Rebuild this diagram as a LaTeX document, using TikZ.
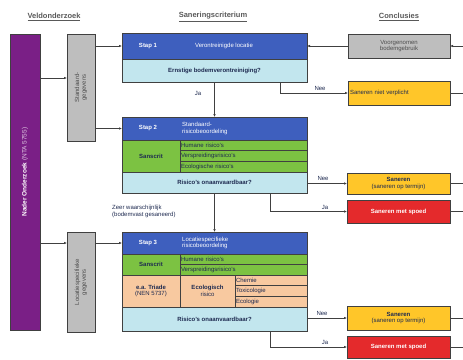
\documentclass[tikz,border=0pt]{standalone}
\usepackage{fontspec}
\setmainfont{Liberation Sans}
\usetikzlibrary{calc,arrows.meta}
\definecolor{purp}{HTML}{7A1F86}
\definecolor{hblue}{HTML}{3E5FBE}
\definecolor{lblue}{HTML}{C2E6EE}
\definecolor{lgreen}{HTML}{7CC242}
\definecolor{peach}{HTML}{F8C9A0}
\definecolor{yell}{HTML}{FFC629}
\definecolor{redb}{HTML}{E42A2C}
\definecolor{greyb}{HTML}{BEBEBE}
\definecolor{edge}{HTML}{404040}
\definecolor{txt}{HTML}{1E2A50}
\tikzset{
  cell/.style={draw=edge, line width=0.4pt, inner sep=0pt, outer sep=0pt, anchor=north west, font=\fontsize{6}{6.8}\selectfont, text=txt, align=center},
  frame/.style={draw=edge, line width=1pt},
  arr/.style={draw=edge, line width=0.8pt, -{Latex[length=3pt,width=2.6pt]}},
  ln/.style={draw=edge, line width=0.8pt},
  lab/.style={font=\fontsize{6}{7}\selectfont, text=txt, inner sep=0pt},
  head/.style={font=\fontsize{7.5}{8}\selectfont\bfseries, text=black!65, inner sep=0pt},
  wtxt/.style={font=\fontsize{6}{6.8}\selectfont, text=white, inner sep=0pt, align=left},
}
\newcommand{\ul}[1]{\underline{#1}}
\begin{document}
\begin{tikzpicture}[x=1pt,y=-1pt]
\useasboundingbox (0,0) rectangle (463,359);
% headers
\node[head] (h1) at (54,17) {\ul{Veldonderzoek}};
\node[head] (h2) at (213,17) {\ul{Saneringscriterium}};
\node[head] (h3) at (399,17) {\ul{Conclusies}};
% left column
\node[cell, fill=purp, minimum width=30, minimum height=296, line width=0.8pt] (pur) at (10,34) {};
\node[rotate=90, text=white, font=\fontsize{6.5}{7}\selectfont] (purt) at (25,172) {\textbf{Nader Onderzoek} {\color{white!75!purp}(NTA 5755)}};
\node[cell, fill=greyb, minimum width=28, minimum height=107, line width=0.8pt] (g1) at (67,34) {};
\node[rotate=90, text=black!70, font=\fontsize{6}{6.8}\selectfont, align=center] (g1t) at (g1.center) {Standaard-\\gegevens};
\node[cell, fill=greyb, minimum width=28, minimum height=100, line width=0.8pt] (g2) at (67,232) {};
\node[rotate=90, text=black!70, font=\fontsize{6}{6.8}\selectfont, align=center] (g2t) at (g2.center) {Locatiespecifieke\\gegevens};
\coordinate (pa) at (40,78);
\coordinate (pb) at (40,243);
\draw[arr] (pa) -- (pa -| g1.west);
\draw[arr] (pb) -- (pb -| g2.west);
% Stap 1
\node[cell, fill=hblue, minimum width=185, minimum height=26] (s1h) at (122,33) {};
\node[cell, fill=lblue, minimum width=185, minimum height=23] (s1q) at (122,59) {\bfseries Ernstige bodemverontreiniging?};
\draw[frame] (s1h.north west) rectangle (s1q.south east);
\node[wtxt] (s1a) at (148,46) {\bfseries Stap 1};
\node[wtxt] (s1b) at (224,46) {Verontreinigde locatie};
% Stap 2
\node[cell, fill=hblue, minimum width=185, minimum height=23] (s2h) at (122,117) {};
\node[cell, fill=lgreen, minimum width=58, minimum height=32] (s2g) at (122,140) {\bfseries Sanscrit};
\node[cell, fill=lgreen, minimum width=127, minimum height=10.67, align=left, text width=125] (s2r1) at (180,140) {Humane risico's};
\node[cell, fill=lgreen, minimum width=127, minimum height=10.67, align=left, text width=125] (s2r2) at (180,150.67) {Verspreidingsrisico's};
\node[cell, fill=lgreen, minimum width=127, minimum height=10.67, align=left, text width=125] (s2r3) at (180,161.33) {Ecologische risico's};
\node[cell, fill=lblue, minimum width=185, minimum height=21] (s2q) at (122,172) {\bfseries Risico's onaanvaardbaar?};
\draw[frame] (s2h.north west) rectangle (s2q.south east);
\node[wtxt] (s2a) at (148,128.5) {\bfseries Stap 2};
\node[wtxt, anchor=west] (s2b) at (182,128.5) {Standaard-\\risicobeoordeling};
% Stap 3
\node[cell, fill=hblue, minimum width=185, minimum height=22] (s3h) at (122,232) {};
\node[cell, fill=lgreen, minimum width=58, minimum height=21] (s3g) at (122,254) {\bfseries Sanscrit};
\node[cell, fill=lgreen, minimum width=127, minimum height=10.5, align=left, text width=125] (s3r1) at (180,254) {Humane risico's};
\node[cell, fill=lgreen, minimum width=127, minimum height=10.5, align=left, text width=125] (s3r2) at (180,264.5) {Verspreidingsrisico's};
\node[cell, fill=peach, minimum width=58, minimum height=32] (s3o) at (122,275) {\bfseries e.a. Triade\\(NEN 5737)};
\node[cell, fill=peach, minimum width=55, minimum height=32] (s3e) at (180,275) {\bfseries Ecologisch\\risico};
\node[cell, fill=peach, minimum width=72, minimum height=10.67, align=left, text width=70] (s3c1) at (235,275) {Chemie};
\node[cell, fill=peach, minimum width=72, minimum height=10.67, align=left, text width=70] (s3c2) at (235,285.67) {Toxicologie};
\node[cell, fill=peach, minimum width=72, minimum height=10.67, align=left, text width=70] (s3c3) at (235,296.33) {Ecologie};
\node[cell, fill=lblue, minimum width=185, minimum height=24] (s3q) at (122,307) {\bfseries Risico's onaanvaardbaar?};
\draw[frame] (s3h.north west) rectangle (s3q.south east);
\node[wtxt] (s3a) at (148,243) {\bfseries Stap 3};
\node[wtxt, anchor=west] (s3b) at (182,243) {Locatiespecifieke\\risicobeoordeling};
% vertical flow
\draw[arr] (s1q.south -| s2h.north) -- (s2h.north);
\node[lab] (ja1) at (198,93) {Ja};
\draw[arr] (s2q.south -| s3h.north) -- (s3h.north);
\node[lab, align=left, anchor=west] (zeer) at (112,211) {Zeer waarschijnlijk\\(bodemvast gesaneerd)};
% feeds from grey boxes
\draw[arr] (g1.east |- s1h.west) -- (s1h.west);
\draw[arr] (g1.east |- s2h.west) -- (s2h.west);
\draw[arr] (g2.east |- s3h.west) -- (s3h.west);
% right column
\node[cell, fill=greyb, minimum width=102, minimum height=24, text=black!70, line width=0.8pt] (rg) at (348,34) {Voorgenomen\\bodemgebruik};
\coordinate (rin) at (463,46);
\draw[arr] (rin) -- (rg.east);
\draw[arr] (rg.west) -- (rg.west -| s1h.east);
\node[cell, fill=yell, minimum width=102, minimum height=24, line width=0.8pt, align=left, text width=98] (y1) at (348,81) {Saneren niet verplicht};
\node[cell, fill=yell, minimum width=103, minimum height=21, line width=0.8pt] (y2) at (347,173) {\bfseries Saneren\\(saneren op termijn)};
\node[cell, fill=redb, minimum width=103, minimum height=23, line width=0.8pt, text=white] (r2) at (347,200) {\bfseries Saneren met spoed};
\node[cell, fill=yell, minimum width=103, minimum height=24, line width=0.8pt] (y3) at (347,306) {\bfseries Saneren\\(saneren op termijn)};
\node[cell, fill=redb, minimum width=103, minimum height=22, line width=0.8pt, text=white] (r3) at (347,336) {\bfseries Saneren met spoed};
% branches
\coordinate (b1) at (280,82);
\draw[arr] (b1) |- (y1.west);
\node[lab] (nee1) at (320,88) {Nee};
\draw[arr] (s2q.east |- y2.west) -- (y2.west);
\node[lab] (nee2) at (323,178) {Nee};
\coordinate (b2) at (270,193);
\draw[arr] (b2) |- (r2.west);
\node[lab] (ja2) at (325,207) {Ja};
\draw[arr] (s3q.east |- y3.west) -- (y3.west);
\node[lab] (nee3) at (322,313) {Nee};
\coordinate (b3) at (270,331);
\draw[arr] (b3) |- (r3.west);
\node[lab] (ja3) at (325,342) {Ja};
% outgoing lines to the right edge
\coordinate (ex) at (463,0);
\draw[ln] (y1.east) -- (y1.east -| ex);
\draw[ln] (y2.east) -- (y2.east -| ex);
\draw[ln] (r2.east) -- (r2.east -| ex);
\draw[ln] (y3.east) -- (y3.east -| ex);
\draw[ln] (r3.east) -- (r3.east -| ex);
\end{tikzpicture}
\end{document}
